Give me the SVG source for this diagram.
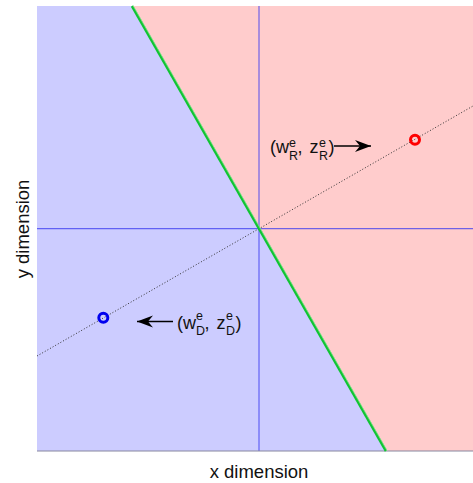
<svg xmlns="http://www.w3.org/2000/svg" width="473" height="483" viewBox="0 0 473 483">
<style>
text{font-family:"Liberation Sans",Arial,sans-serif;fill:#111}
.lab{font-size:18px}
.s{font-size:12.5px}
.ax{font-size:18.5px}
.axis{stroke:#3838f0;stroke-opacity:0.72;stroke-width:1.2}
.arrow{stroke:#000;stroke-width:1.3;fill:none}
</style>
<defs>
<marker id="ah" markerUnits="userSpaceOnUse" markerWidth="20" markerHeight="14" viewBox="-16 -7 18 14" refX="0" refY="0" orient="auto">
<path d="M-16,-6 L0,0 L-16,6 L-11,0 Z" fill="#000"/>
</marker>
</defs>
<g id="regions">
<polygon points="37,6 132,6 386,451 37,451" fill="#ccccff"/>
<polygon points="132,6 473,6 473,451 386,451" fill="#ffcccc"/>
</g>
<g id="connectors">
<line class="axis" x1="259" y1="6" x2="259" y2="451"/>
<line class="axis" x1="37" y1="228.7" x2="473" y2="228.7"/>
<line x1="37" y1="451" x2="473" y2="451" stroke="#8888a0" stroke-width="1.2"/>
<line x1="37" y1="356" x2="473" y2="106" stroke="#333" stroke-width="1" stroke-dasharray="1,2"/>
<line x1="132" y1="6" x2="386" y2="451" stroke="#11c433" stroke-width="2.6"/>
<line x1="133.3" y1="6" x2="387.3" y2="451" stroke="#aaeeaa" stroke-width="0.6"/>
<line class="arrow" x1="334" y1="146" x2="371" y2="146" marker-end="url(#ah)"/>
<line class="arrow" x1="173" y1="321.5" x2="137" y2="321.5" marker-end="url(#ah)"/>
</g>
<g id="pointR">
<circle cx="415" cy="139.7" r="4.5" fill="none" stroke="#ff0000" stroke-width="3"/>
</g>
<g id="pointD">
<circle cx="103.3" cy="317.7" r="4.5" fill="none" stroke="#0000ee" stroke-width="3"/>
</g>
<g id="labelR">
<text class="lab" x="270" y="153">(w</text>
<text class="s" x="289" y="146.5">e</text>
<text class="s" x="289" y="159.5">R</text>
<text class="lab" x="297.5" y="153">,</text>
<text class="lab" x="309.5" y="153">z</text>
<text class="s" x="319" y="146.5">e</text>
<text class="s" x="319" y="159.5">R</text>
<text class="lab" x="328.5" y="153">)</text>
</g>
<g id="labelD">
<text class="lab" x="177" y="328.5">(w</text>
<text class="s" x="196" y="319.5">e</text>
<text class="s" x="196" y="335">D</text>
<text class="lab" x="204.5" y="328.5">,</text>
<text class="lab" x="216.5" y="328.5">z</text>
<text class="s" x="226" y="319.5">e</text>
<text class="s" x="226" y="335">D</text>
<text class="lab" x="235.5" y="328.5">)</text>
</g>
<g id="axislabels">
<text class="ax" x="259" y="478" text-anchor="middle">x dimension</text>
<text class="ax" transform="translate(29,229) rotate(-90)" text-anchor="middle">y dimension</text>
</g>
</svg>
